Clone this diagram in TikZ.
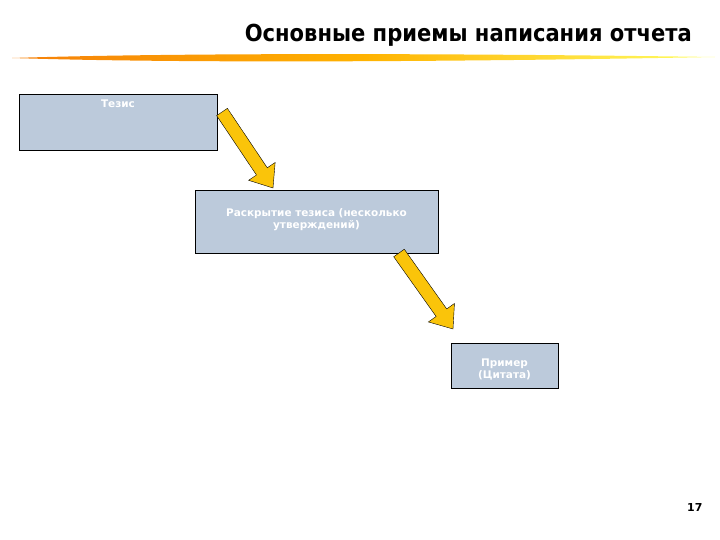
\documentclass[tikz,border=0pt]{standalone}
\usepackage{fontspec}
\setmainfont{DejaVu Sans}
\newfontfamily\condfont{DejaVu Sans Condensed}
\usetikzlibrary{calc}
\definecolor{boxblue}{RGB}{188,202,219}
\definecolor{arrowy}{RGB}{250,196,10}
\newcommand{\fatarrow}[2]{%
  \coordinate (N) at ($(#2)!20bp!(#1)$);
  \draw[black,fill=arrowy,line join=miter]
    ($(#1)!6.5bp!90:(#2)$) -- ($(N)!6.5bp!-90:(#1)$) -- ($(N)!16bp!-90:(#1)$) -- (#2)
    -- ($(N)!16bp!90:(#1)$) -- ($(N)!6.5bp!90:(#1)$) -- ($(#1)!6.5bp!-90:(#2)$) -- cycle;}
\begin{document}
\begin{tikzpicture}[x=1bp,y=-1bp,
  pbox/.style={draw=black,fill=boxblue,inner sep=0pt},
  ptext/.style={text=white,font=\bfseries\fontsize{10.5}{12}\selectfont,align=center}]
\useasboundingbox (0,0) rectangle (720,540);
\node[anchor=base east,font=\condfont\bfseries\fontsize{23.5}{26}\selectfont,inner sep=0pt] (title) at (692,42) {Основные приемы написания отчета};
\shade[left color=orange!85!brown,right color=yellow!60,middle color=orange!60!yellow]
  (12,58) .. controls (200,52) and (500,54) .. (715,57) .. controls (500,61) and (200,64) .. (12,58) -- cycle;
\node[pbox,minimum width=198bp,minimum height=56bp] (a) at (118,122) {};
\node[ptext,anchor=north] at (a.north) [yshift=-3bp] {Тезис};
\node[pbox,minimum width=243bp,minimum height=63bp] (b) at (316.5,221.5) {};
\node[ptext,anchor=north] at (b.north) [yshift=-15bp] {Раскрытие тезиса (несколько\\утверждений)};
\node[pbox,minimum width=107bp,minimum height=45bp] (c) at (504.5,365.5) {};
\node[ptext,anchor=north] at (c.north) [yshift=-13bp] {Пример\\(Цитата)};
\coordinate (a1) at (222,112);
\coordinate (b1) at (273,188);
\coordinate (b2) at (399,253);
\coordinate (c1) at (453,329);
\fatarrow{a1}{b1}
\fatarrow{b2}{c1}
\node[anchor=base east,font=\bfseries\fontsize{11}{12}\selectfont] (pg) at (706,511) {17};
\end{tikzpicture}
\end{document}
